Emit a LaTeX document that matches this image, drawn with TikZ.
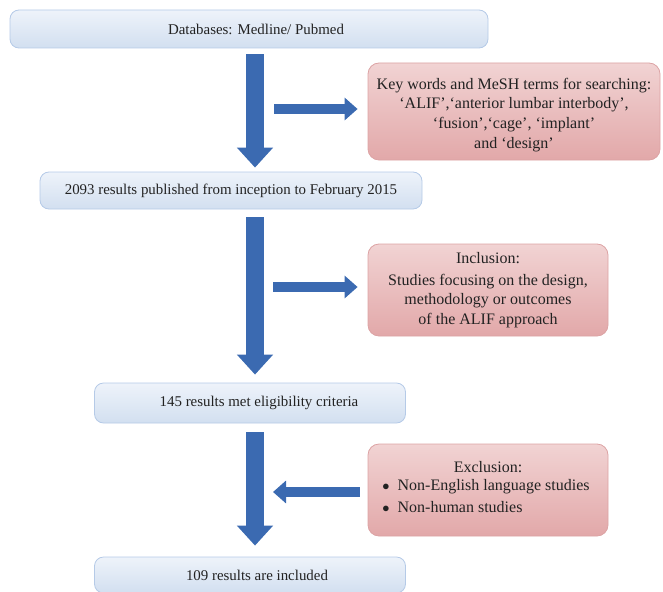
\documentclass[tikz,border=0pt]{standalone}
\usepackage{fontspec}
\setmainfont{Liberation Serif}
\usetikzlibrary{arrows.meta}
\definecolor{arrowblue}{HTML}{3B6AB1}
\definecolor{bluetop}{HTML}{EEF3FA}
\definecolor{bluebot}{HTML}{D2DFF0}
\definecolor{blueline}{HTML}{B5CAE7}
\definecolor{redtop}{HTML}{F1D3D3}
\definecolor{redbot}{HTML}{E2A8A9}
\definecolor{redline}{HTML}{DCA3A4}
\definecolor{txt}{HTML}{222222}
\begin{document}
\begin{tikzpicture}[x=1pt,y=-1pt,
  bluebox/.style={draw=blueline, line width=0.8pt, rounded corners=9pt,
    top color=bluetop, bottom color=bluebot, inner sep=0pt, text=txt,
    font=\fontsize{14.9}{17}\selectfont},
  redbox/.style={draw=redline, line width=0.8pt, rounded corners=11pt,
    top color=redtop, bottom color=redbot, inner sep=0pt, text=txt,
    align=center, font=\fontsize{16}{19.7}\selectfont},
  fatdown/.style={draw=arrowblue, line width=18pt,
    -{Triangle[width=35pt,length=20pt,fill=arrowblue]}},
  fatside/.style={draw=arrowblue, line width=10pt,
    -{Triangle[width=22pt,length=13pt,fill=arrowblue]}},
]
\useasboundingbox (0,0) rectangle (663,591);
% blue boxes
\node[bluebox, minimum width=478pt, minimum height=38pt] (db) at (249,29)
  {\hspace*{14pt}Databases: Medline/ Pubmed};
\node[bluebox, minimum width=382pt, minimum height=37pt] (r1) at (231,190.5)
  {2093 results published from inception to February 2015};
\node[bluebox, minimum width=311pt, minimum height=40pt] (r2) at (250,403)
  {\hspace*{18pt}145 results met eligibility criteria};
\node[bluebox, minimum width=311pt, minimum height=36pt] (r3) at (250,575)
  {\hspace*{14pt}109 results are included};
% red boxes
\node[redbox, minimum width=292pt, minimum height=97pt] (k1) at (514,111.5)
  {\rule{0pt}{18pt}Key words and MeSH terms for searching:\\
   ‘ALIF’,‘anterior lumbar interbody’,\\
   ‘fusion’,‘cage’, ‘implant’\\
   and ‘design’};
\node[redbox, minimum width=240pt, minimum height=92pt] (k2) at (488,290)
  {Inclusion:\\[2.5pt]
   Studies focusing on the design,\\
   methodology or outcomes\\
   of the ALIF approach};
\node[redbox, minimum width=240pt, minimum height=92pt] (k3) at (488,490)
  {Exclusion:\\[3pt]
   \begin{tabular}{@{}l@{}}
   \hspace*{-4pt}{\Large$\bullet$}\hspace{8pt}Non-English language studies\\[3pt]
   \hspace*{-4pt}{\Large$\bullet$}\hspace{8pt}Non-human studies
   \end{tabular}};
% arrows
\coordinate (ax) at (255,0);
\coordinate (s1) at (274,109);
\coordinate (s2) at (273,287);
\coordinate (s3) at (273,492);
\draw[fatdown] ([yshift=-6pt]db.south -| ax) -- ([yshift=4pt]r1.north -| ax);
\draw[fatdown] ([yshift=-8pt]r1.south -| ax) -- ([yshift=8pt]r2.north -| ax);
\draw[fatdown] ([yshift=-9pt]r2.south -| ax) -- ([yshift=11pt]r3.north -| ax);
\draw[fatside] (s1) -- ([xshift=-10pt]k1.west |- s1);
\draw[fatside] (s2) -- ([xshift=-10pt]k2.west |- s2);
\draw[fatside] ([xshift=-8pt]k3.west |- s3) -- (s3);
\end{tikzpicture}
\end{document}
